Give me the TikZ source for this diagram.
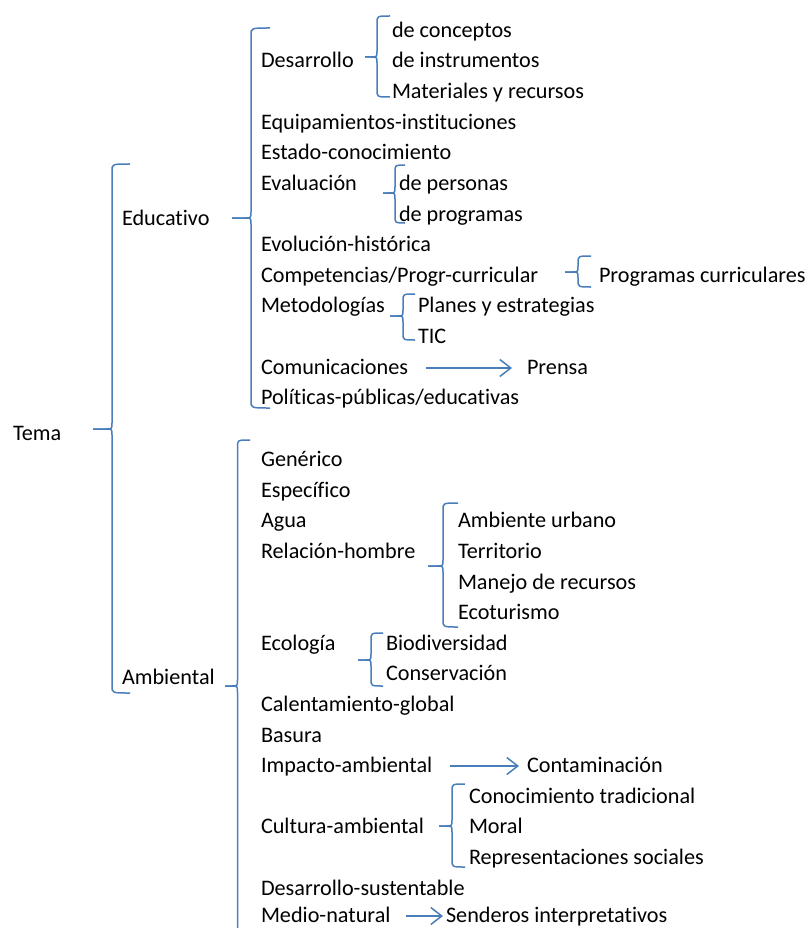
\documentclass[tikz,border=0pt]{standalone}
\usepackage{fontspec}
\setmainfont{Carlito}[Ligatures=NoCommon]
\usetikzlibrary{arrows.meta}
\definecolor{wblue}{RGB}{74,126,187}
\tikzset{
  lbl/.style={anchor=base west,inner sep=0pt,outer sep=0pt,font=\fontsize{22.2}{26}\selectfont},
  br/.style={draw=wblue,line width=1.5pt,line join=round},
  arr/.style={draw=wblue,line width=1.5pt,-{Straight Barb[length=11pt,width=17pt,line width=1.5pt]}}
}
\newcommand\wbrace[6]{%
  \draw[br] (#5,#2) .. controls (#1,#2) .. ({#1},{#2+7}) -- ({#1},{#3-6})
    .. controls (#1,#3) .. ({#1-6},#3) -- (#6,#3);
  \draw[br] (#6,#3) -- ({#1-6},#3) .. controls (#1,#3) .. ({#1},{#3+6})
    -- ({#1},{#4-7}) .. controls (#1,#4) .. (#5,#4);}
\begin{document}
\begin{tikzpicture}[x=1pt,y=-1pt]
\useasboundingbox (0,0) rectangle (809,928);
% level 0/1
\node[lbl] (tema) at (13,440) {Tema};
\node[lbl] (edu) at (122,225.7) {Educativo};
\node[lbl] (amb) at (122,684) {Ambiental};
% Educativo group
\node[lbl] (dc) at (392,37.4) {de conceptos};
\node[lbl] (des) at (261,68) {Desarrollo};
\node[lbl] (di) at (392,68) {de instrumentos};
\node[lbl] (mr) at (392,98.6) {Materiales y recursos};
\node[lbl] (eqi) at (261,129.2) {Equipamientos-instituciones};
\node[lbl] (est) at (261,159.8) {Estado-conocimiento};
\node[lbl] (eva) at (261,190.4) {Evaluación};
\node[lbl] (dp) at (399,190.4) {de personas};
\node[lbl] (dpr) at (399,221) {de programas};
\node[lbl] (evo) at (261,251.6) {Evolución-histórica};
\node[lbl] (comp) at (261,282.2) {Competencias/Progr-curricular};
\node[lbl] (pc) at (599,282.2) {Programas curriculares};
\node[lbl] (met) at (261,312.8) {Metodologías};
\node[lbl] (pye) at (418,312.8) {Planes y estrategias};
\node[lbl] (tic) at (418,343.4) {TIC};
\node[lbl] (com) at (261,374) {Comunicaciones};
\node[lbl] (pre) at (527,374) {Prensa};
\node[lbl] (pol) at (261,404.6) {Políticas-públicas/educativas};
% Ambiental group
\node[lbl] (gen) at (261,466.7) {Genérico};
\node[lbl] (esp) at (261,497.3) {Específico};
\node[lbl] (agu) at (261,527.9) {Agua};
\node[lbl] (rel) at (261,558.5) {Relación-hombre};
\node[lbl] (au) at (458,527.9) {Ambiente urbano};
\node[lbl] (ter) at (458,558.5) {Territorio};
\node[lbl] (mdr) at (458,589.1) {Manejo de recursos};
\node[lbl] (eco) at (458,619.7) {Ecoturismo};
\node[lbl] (ecol) at (261,650.3) {Ecología};
\node[lbl] (bio) at (386,650.3) {Biodiversidad};
\node[lbl] (con) at (386,680.9) {Conservación};
\node[lbl] (cal) at (261,711.5) {Calentamiento-global};
\node[lbl] (bas) at (261,742.1) {Basura};
\node[lbl] (imp) at (261,772.7) {Impacto-ambiental};
\node[lbl] (cont) at (527,772.7) {Contaminación};
\node[lbl] (ct) at (469,803.3) {Conocimiento tradicional};
\node[lbl] (cul) at (261,833.9) {Cultura-ambiental};
\node[lbl] (mor) at (469,833.9) {Moral};
\node[lbl] (rs) at (469,864.5) {Representaciones sociales};
\node[lbl] (dsu) at (261,895.1) {Desarrollo-sustentable};
\node[lbl] (mna) at (261,922.5) {Medio-natural};
\node[lbl] (sen) at (446,922.5) {Senderos interpretativos};
% braces
\wbrace{112}{164}{429}{693}{130}{93}
\wbrace{251}{28}{218}{408}{270}{232}
\wbrace{377}{16}{57}{97}{390}{365}
\wbrace{395}{165}{193}{223}{405}{383}
\wbrace{578}{256}{272}{287}{591}{565}
\wbrace{403}{294}{316}{340}{415}{390}
\wbrace{443}{503}{566}{627}{458}{428}
\wbrace{371}{633}{660}{686}{383}{358}
\wbrace{452}{784}{826}{867}{465}{439}
% Ambiental brace (runs off the bottom)
\draw[br] (250,440) .. controls (237.5,440) .. (237.5,447) -- (237.5,680)
  .. controls (237.5,686) .. (231.5,686) -- (225,686);
\draw[br] (225,686) -- (231.5,686) .. controls (237.5,686) .. (237.5,692) -- (237.5,935);
% arrows
\coordinate (comA) at (426,368);
\coordinate (preA) at (512,368);
\coordinate (impA) at (450,766);
\coordinate (contA) at (519,766);
\coordinate (mnaA) at (406,916);
\coordinate (senA) at (443,916);
\draw[arr] (comA) -- (preA);
\draw[arr] (impA) -- (contA);
\draw[arr] (mnaA) -- (senA);
\end{tikzpicture}
\end{document}
